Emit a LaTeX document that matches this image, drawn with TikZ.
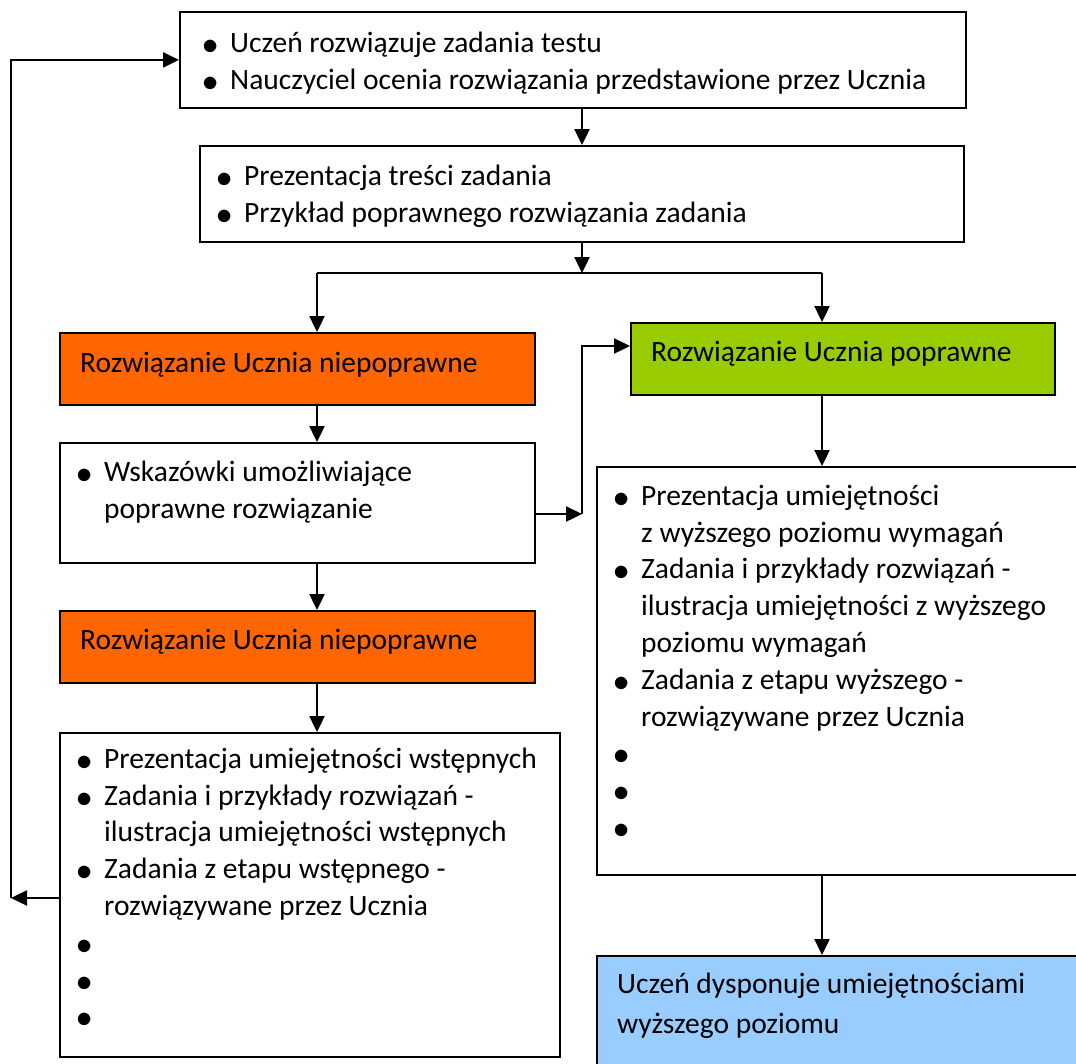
\documentclass[tikz,border=0pt]{standalone}
\usepackage{fontspec}
\setmainfont{Carlito}
\usetikzlibrary{arrows.meta,positioning,calc}

\definecolor{badorange}{HTML}{FF6600}
\definecolor{okgreen}{HTML}{99CC00}
\definecolor{goalblue}{HTML}{99CCFF}

\newcommand{\bul}{\makebox[23pt][l]{\hspace*{-5pt}\raisebox{-2pt}{\scalebox{1.3}{$\bullet$}}}}
\newcommand{\cont}{\hspace*{23pt}}
\newcommand{\fst}{\rule{0pt}{26pt}}

\begin{document}
\begin{tikzpicture}[x=1pt, y=-1pt, >={Triangle[length=16pt,width=15pt]},
  font=\fontsize{29.5pt}{36.8pt}\selectfont,
  box/.style={draw, line width=1.8pt, anchor=north west, inner sep=0pt},
  txt/.style={anchor=north west, inner sep=0pt, align=left},
  line/.style={anchor=base west, inner sep=0pt},
  link/.style={line width=2.4pt}]
\useasboundingbox (0,0) rectangle (1076,1063);
\clip (0,0) rectangle (1076,1063);

% boxes
\node[box, minimum width=786pt, minimum height=96pt] (test) at (179,11) {};
\node[box, minimum width=764pt, minimum height=96pt] (task) at (199,145) {};
\node[box, fill=badorange, minimum width=475pt, minimum height=72pt] (bad1) at (59,332) {};
\node[box, fill=okgreen, minimum width=424pt, minimum height=72pt] (good) at (630,322) {};
\node[box, minimum width=475pt, minimum height=120pt] (hint) at (59,442) {};
\node[box, fill=badorange, minimum width=475pt, minimum height=72pt] (bad2) at (59,610) {};
\node[box, minimum width=500pt, minimum height=324pt] (basic) at (59,732) {};
\node[box, minimum width=520pt, minimum height=408pt] (high) at (596,466) {};
\node[box, fill=goalblue, minimum width=520pt, minimum height=160pt] (goal) at (596,955) {};

% texts
\node[txt] (testtxt) at (207,26) {\fst\bul Uczeń rozwiązuje zadania testu\\
  \bul Nauczyciel ocenia rozwiązania przedstawione przez Ucznia};
\node[txt] (tasktxt) at (221,159) {\fst\bul Prezentacja treści zadania\\
  \bul Przykład poprawnego rozwiązania zadania};
\node[line] (bad1txt) at (80,372) {Rozwiązanie Ucznia niepoprawne};
\node[line] (goodtxt) at (651,361) {Rozwiązanie Ucznia poprawne};
\node[txt] (hinttxt) at (81,455) {\fst\bul Wskazówki umożliwiające\\
  \cont poprawne rozwiązanie};
\node[line] (bad2txt) at (80,649) {Rozwiązanie Ucznia niepoprawne};
\node[txt] (basictxt) at (81,742) {\fst\bul Prezentacja umiejętności wstępnych\\
  \bul Zadania i przykłady rozwiązań -\\
  \cont ilustracja umiejętności wstępnych\\
  \bul Zadania z etapu wstępnego -\\
  \cont rozwiązywane przez Ucznia\\
  \bul\\ \bul\\ \bul};
\node[txt] (hightxt) at (618,479) {\fst\bul Prezentacja umiejętności\\
  \cont z wyższego poziomu wymagań\\
  \bul Zadania i przykłady rozwiązań -\\
  \cont ilustracja umiejętności z wyższego\\
  \cont poziomu wymagań\\
  \bul Zadania z etapu wyższego -\\
  \cont rozwiązywane przez Ucznia\\
  \bul\\ \bul\\ \bul};
\node[txt, font=\fontsize{29.5pt}{40pt}\selectfont] (goaltxt) at (617,967)
  {\fst Uczeń dysponuje umiejętnościami\\ wyższego poziomu};

% connectors
\coordinate (sl) at (317,273);
\coordinate (sm) at (582,273);
\coordinate (sr) at (822,273);
\coordinate (jn) at (582,514);
\coordinate (lp) at (11,898);
\draw[link,->] (sm |- test.south) -- (sm |- task.north);
\draw[link,->] (sm |- task.south) -- (sm);
\draw[link] (sl) -- (sr);
\draw[link,->] (sl) -- (sl |- bad1.north);
\draw[link,->] (sr) -- (sr |- good.north);
\draw[link,->] (sl |- bad1.south) -- (sl |- hint.north);
\draw[link,->] (hint.east |- jn) -- (jn);
\draw[link,->] (jn) |- ([yshift=-24pt]good.north west);
\draw[link,->] (sl |- hint.south) -- (sl |- bad2.north);
\draw[link,->] (sl |- bad2.south) -- (sl |- basic.north);
\draw[link,->] (basic.west |- lp) -- (lp);
\draw[link,->] (lp) |- (test.west);
\draw[link,->] (sr |- good.south) -- (sr |- high.north);
\draw[link,->] (sr |- high.south) -- (sr |- goal.north);
\end{tikzpicture}
\end{document}
